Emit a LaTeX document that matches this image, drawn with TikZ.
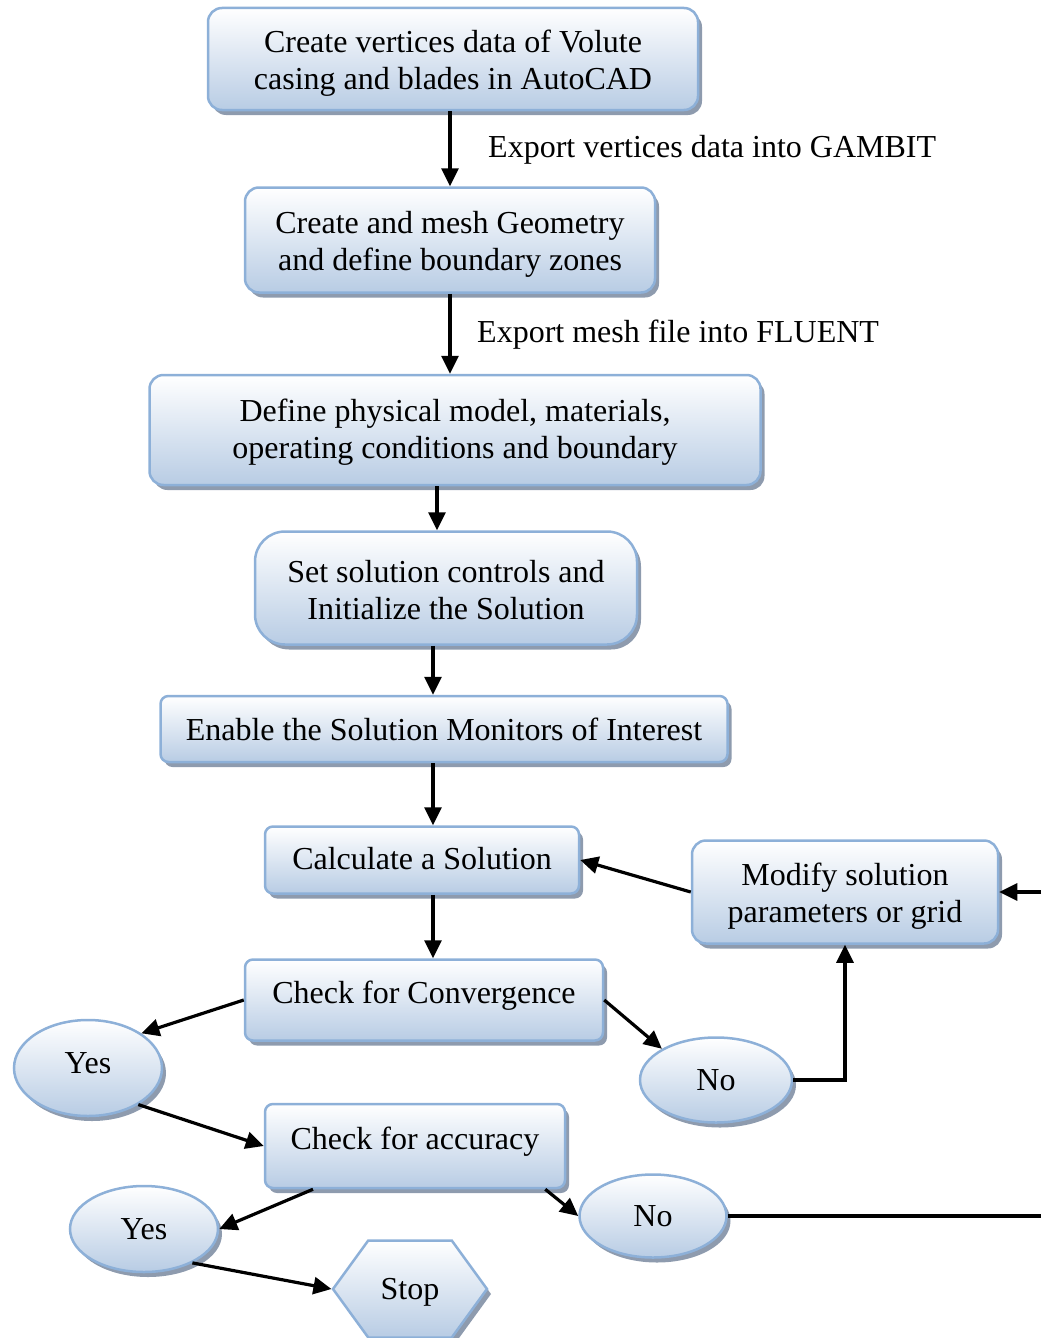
\documentclass[tikz,border=0pt]{standalone}
\usepackage{fontspec}
\setmainfont{Liberation Serif}
\usetikzlibrary{shapes.geometric,shapes.symbols,shadows,arrows.meta}
\definecolor{boxbot}{RGB}{184,204,228}
\definecolor{boxline}{RGB}{141,176,216}
\definecolor{boxshadow}{RGB}{142,155,174}
% invisible struts that nudge a node's text down (taller top) or up (deeper bottom)
\newcommand\lowertxt[1]{\rule{0pt}{#1}}
\newcommand\raisetxt[1]{\rule[-#1]{0pt}{0pt}}
\begin{document}
\begin{tikzpicture}[x=1pt,y=-1pt,
  every node/.style={font=\fontsize{32}{37}\selectfont},
  fancy/.style={draw=boxline, line width=2.5pt, top color=white, bottom color=boxbot,
    align=center, inner sep=0pt,
    drop shadow={shadow xshift=4pt, shadow yshift=-5pt, fill=boxshadow, opacity=1}},
  stepbox/.style={fancy, rectangle, rounded corners=#1},
  stepbox/.default=14pt,
  answer/.style={fancy, ellipse},
  hexa/.style={fancy, signal, signal to=east and west, signal pointer angle=108},
  arr/.style={line width=3.2pt, -{Triangle[length=18pt,width=17pt]}},
  plain/.style={line width=3.2pt},
  note/.style={anchor=west, inner sep=0pt}]
\useasboundingbox (0,0) rectangle (1041,1338);

% process boxes
\node[stepbox, minimum width=490, minimum height=102] (b1) at (453,59)
  {\lowertxt{31pt}Create vertices data of Volute\\casing and blades in AutoCAD};
\node[stepbox, minimum width=410, minimum height=105] (b2) at (450,240)
  {\lowertxt{31pt}Create and mesh Geometry\\and define boundary zones};
\node[stepbox, minimum width=611, minimum height=110] (b3) at (455,430)
  {\lowertxt{26pt}Define physical model, materials,\\operating conditions and boundary};
\node[stepbox=30pt, minimum width=382, minimum height=113] (b4) at (446,588)
  {\lowertxt{26pt}Set solution controls and\\Initialize the Solution};
\node[stepbox=8pt, minimum width=567, minimum height=66] (b5) at (444,729)
  {Enable the Solution Monitors of Interest};
\node[stepbox=8pt, minimum width=314, minimum height=67] (calc) at (422,860)
  {Calculate a Solution\raisetxt{4pt}};
\node[stepbox=8pt, minimum width=358, minimum height=81] (conv) at (424,1000)
  {Check for Convergence\raisetxt{15pt}};
\node[stepbox, minimum width=306, minimum height=103] (mod) at (845,892)
  {\lowertxt{30pt}Modify solution\\parameters or grid};
\node[stepbox=8pt, minimum width=300, minimum height=84] (acc) at (415,1146)
  {Check for accuracy\raisetxt{15pt}};

% decisions and end
\node[answer, minimum width=148, minimum height=96] (yes1) at (88,1068) {Yes\raisetxt{10pt}};
\node[answer, minimum width=152, minimum height=85] (no1) at (716,1080) {No};
\node[answer, minimum width=148, minimum height=86] (yes2) at (144,1229) {Yes};
\node[answer, minimum width=147, minimum height=83] (no2) at (653,1216) {No};
\node[hexa, minimum width=154, minimum height=97] (stop) at (410,1289) {\lowertxt{28pt}Stop};

% side notes
\node[note] (n1) at (488,150) {Export vertices data into GAMBIT};
\node[note] (n2) at (477,335) {Export mesh file into FLUENT};

% loose ends at the right border
\coordinate (edgeA) at (1041,892);
\coordinate (edgeB) at (1041,1216);

% connectors
\draw[arr] (b2.north |- b1.south) -- (b2.north);
\draw[arr] (b2.south) -- (b2.south |- b3.north);
\draw[arr] ([xshift=-18pt]b3.south) -- ([xshift=-18pt]b3.south |- b4.north);
\draw[arr] ([xshift=-13pt]b4.south) -- ([xshift=-13pt]b4.south |- b5.north);
\draw[arr] ([xshift=-11pt]b5.south) -- ([xshift=-11pt]b5.south |- calc.north);
\draw[arr] ([xshift=11pt]calc.south) -- ([xshift=11pt]calc.south |- conv.north);
\draw[arr] (conv.west) -- (yes1.33);
\draw[arr] (conv.east) -- (no1.150);
\draw[arr] (no1.east) -| (mod.south);
\draw[arr] (mod.west) -- (calc.east);
\draw[arr] (edgeA) -- (mod.east);
\draw[arr] (yes1.-36) -- (acc.west);
\draw[arr] ([xshift=-102pt]acc.south) -- (yes2.east);
\draw[arr] ([xshift=-21pt]acc.south east) -- (no2.west);
\draw[plain] (no2.east) -- (edgeB);
\draw[arr] (yes2.-35) -- (stop.west);
\end{tikzpicture}
\end{document}
